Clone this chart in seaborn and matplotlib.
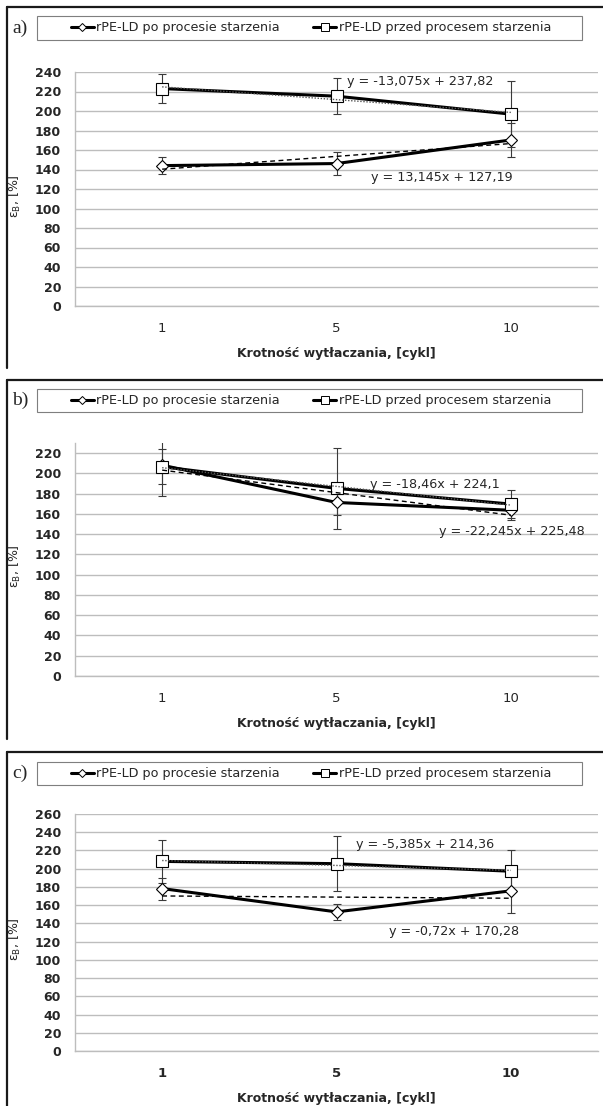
import numpy as np
import pandas as pd
import matplotlib
matplotlib.use("Agg")
import matplotlib.pyplot as plt
import seaborn as sns
from matplotlib.lines import Line2D
from matplotlib.patches import Rectangle

# ---------------- data ----------------
cycles = ["1", "5", "10"]
series_names = ["rPE-LD po procesie starzenia", "rPE-LD przed procesem starzenia"]
panel_tags = ["a)", "b)", "c)"]

a_po = [144.0, 146.1, 170.3]
a_po_err = [9, 12, 17]
a_przed = [223.0, 215.2, 196.8]
a_przed_err = [15, 18.5, 33.5]
a_eq = ["y = 13,145x + 127,19", "y = -13,075x + 237,82"]

b_po = [208.1, 171.3, 163.6]
b_po_err = [30, 12, 10]
b_przed = [206.6, 185.2, 169.7]
b_przed_err = [17, 40, 14]
b_eq = ["y = -22,245x + 225,48", "y = -18,46x + 224,1"]

c_po = [178.2, 152.6, 175.7]
c_po_err = [12, 8.5, 24]
c_przed = [208.0, 205.5, 197.2]
c_przed_err = [24, 30, 23]
c_eq = ["y = -0,72x + 170,28", "y = -5,385x + 214,36"]

y_max = [240, 230, 260]
y_top_label = [240, 220, 260]

# ---------------- layout (pixels) ----------------
W, H = 603, 1106
AX_LEFT, AX_RIGHT = 75, 598
ax_tops = [72, 443, 814]
ax_bottoms = [306, 676, 1051]
panel_tops = [7, 380, 752]
panel_bottoms = [368, 739, 1106]
legend_boxes = [(16, 40), (389, 412), (762, 785)]
eq_pos = [[(1.20, 132), (1.06, 230)],
          [(1.59, 142.6), (1.19, 189)],
          [(1.30, 131.6), (1.11, 227)]]
xlabel_bold = [False, False, True]

sns.set_style("white")
plt.rcParams["font.family"] = ["DejaVu Sans"]
plt.rcParams["mathtext.default"] = "regular"

fig = plt.figure(figsize=(W / 100, H / 100), dpi=100)

panels = [
    (a_po, a_po_err, a_przed, a_przed_err, a_eq),
    (b_po, b_po_err, b_przed, b_przed_err, b_eq),
    (c_po, c_po_err, c_przed, c_przed_err, c_eq),
]

grid_c = "#bdbdbd"

for i, (po, po_err, przed, przed_err, eqs) in enumerate(panels):
    top, bot = ax_tops[i], ax_bottoms[i]
    ax = fig.add_axes([AX_LEFT / W, 1 - bot / H, (AX_RIGHT - AX_LEFT) / W, (bot - top) / H])
    xpos = np.arange(len(cycles))
    df = pd.DataFrame({
        "x": np.concatenate([xpos, xpos]),
        "y": list(po) + list(przed),
        "series": [series_names[0]] * 3 + [series_names[1]] * 3,
    })
    # error bars
    ax.errorbar(xpos, po, yerr=po_err, fmt="none", ecolor="#3a3a3a", elinewidth=0.8,
                capsize=3, capthick=0.8, zorder=2)
    ax.errorbar(xpos, przed, yerr=przed_err, fmt="none", ecolor="#3a3a3a", elinewidth=0.8,
                capsize=3, capthick=0.8, zorder=2)
    # trend lines
    sns.regplot(x=xpos, y=np.array(po), ci=None, scatter=False, ax=ax,
                line_kws=dict(color="black", lw=1.0, ls=(0, (3.5, 2.5)), zorder=4))
    sns.regplot(x=xpos, y=np.array(przed), ci=None, scatter=False, ax=ax,
                line_kws=dict(color="#555555", lw=1.0, ls=(0, (1, 1.2)), zorder=4))
    # data lines
    sns.lineplot(data=df, x="x", y="y", hue="series", style="series",
                 palette={series_names[0]: "black", series_names[1]: "black"},
                 markers={series_names[0]: "D", series_names[1]: "s"}, dashes=False,
                 lw=2.2, markersize=7, markerfacecolor="white", markeredgecolor="black",
                 markeredgewidth=0.8, ax=ax, legend=False, zorder=3)
    for ln in ax.lines[-2:]:
        ln.set_markerfacecolor("white")
        ln.set_markeredgecolor("black")
    ax.lines[-2].set_markersize(6)
    ax.lines[-1].set_markersize(8)

    # axes styling
    ax.set_xlim(-0.5, 2.5)
    ax.set_ylim(0, y_max[i])
    ax.set_yticks(np.arange(0, y_top_label[i] + 1, 20))
    ax.set_yticklabels([str(v) for v in range(0, y_top_label[i] + 1, 20)],
                       fontweight="bold", fontsize=9)
    ax.set_xticks(xpos)
    ax.set_xticklabels(cycles, fontsize=9.5,
                       fontweight="bold" if xlabel_bold[i] else "normal")
    ax.set_xticks([-0.5, 0.5, 1.5, 2.5], minor=True)
    ax.tick_params(axis="x", which="major", length=0, pad=11.5)
    ax.tick_params(axis="x", which="minor", length=4, width=1, color=grid_c, direction="out")
    ax.tick_params(axis="y", which="major", length=4, width=1, color=grid_c,
                   direction="out", pad=6)
    ax.yaxis.grid(True, color=grid_c, lw=1)
    ax.xaxis.grid(False)
    for s in ["top", "right"]:
        ax.spines[s].set_visible(False)
    for s in ["left", "bottom"]:
        ax.spines[s].set_color(grid_c)
        ax.spines[s].set_linewidth(1)
    ax.set_xlabel("Krotność wytłaczania, [cykl]", fontweight="bold", fontsize=9)
    ax.xaxis.set_label_coords(0.5, -41 / (bot - top))
    ax.set_ylabel("ε$_{B}$, [%]", fontsize=9)
    ax.yaxis.set_label_coords(-52 / (AX_RIGHT - AX_LEFT), 0.47)
    ax.set_facecolor("white")

    # trendline equations
    for (ex, ey), txt in zip(eq_pos[i], eqs):
        ax.text(ex, ey, txt, fontsize=9.2, ha="left", va="center", zorder=5)

    # panel frame (top + left edges)
    pt, pb = panel_tops[i], panel_bottoms[i]
    fig.add_artist(Line2D([7 / W, 1], [1 - pt / H, 1 - pt / H], transform=fig.transFigure,
                          color="#1a1a1a", lw=1.6))
    fig.add_artist(Line2D([7 / W, 7 / W], [1 - pt / H, 1 - pb / H], transform=fig.transFigure,
                          color="#1a1a1a", lw=1.6))
    # panel tag
    lt, lb = legend_boxes[i]
    fig.text(12 / W, 1 - ((lt + lb) / 2) / H, panel_tags[i], fontsize=14,
             family="Liberation Serif", va="center", ha="left")
    # legend box
    fig.add_artist(Rectangle((37 / W, 1 - lb / H), 545 / W, (lb - lt) / H,
                             transform=fig.transFigure, fill=False, ec="#7f7f7f", lw=0.8))
    handles = [
        Line2D([], [], color="black", lw=2.2, marker="D", ms=4.5, mfc="white", mec="black", mew=0.7),
        Line2D([], [], color="black", lw=2.2, marker="s", ms=6, mfc="white", mec="black", mew=0.7),
    ]
    fig.legend(handles, series_names, loc="center",
               bbox_to_anchor=(311 / W, 1 - ((lt + lb) / 2) / H),
               bbox_transform=fig.transFigure, ncol=2, frameon=False, fontsize=9.2,
               handlelength=1.8, handletextpad=0.2, columnspacing=2.6,
               borderpad=0, borderaxespad=0)

fig.savefig("out.png", dpi=100, facecolor="white")
